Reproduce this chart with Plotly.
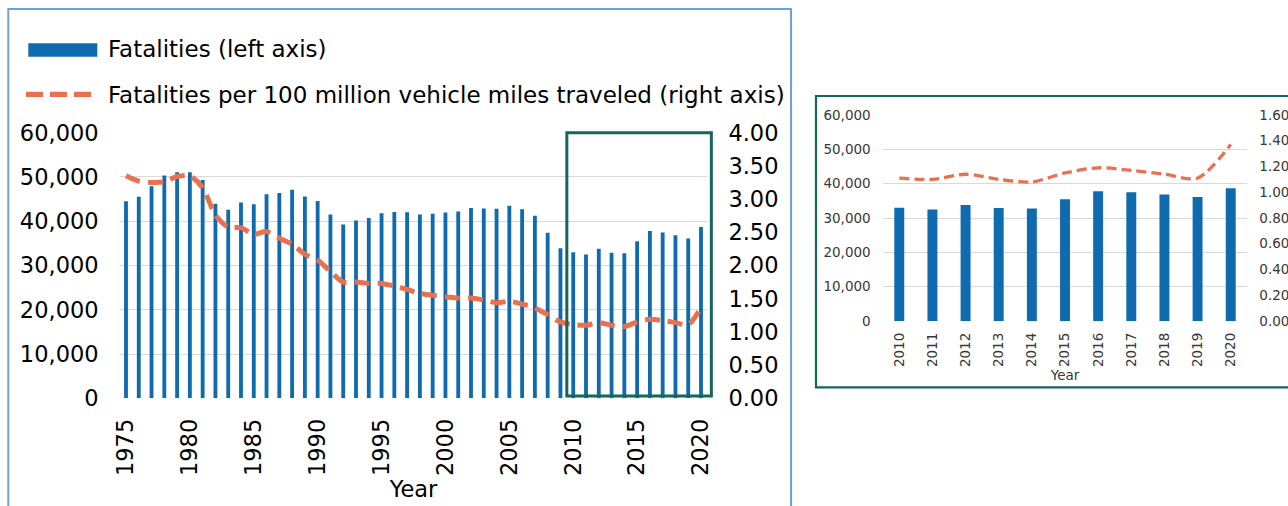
import plotly.graph_objects as go

# ---------------- data ----------------
years = list(range(1975, 2021))
fatalities = [44525, 45523, 47878, 50331, 51093, 51091, 49301, 43945, 42589, 44257,
              43825, 46087, 46390, 47087, 45582, 44599, 41508, 39250, 40150, 40716,
              41817, 42065, 42013, 41501, 41717, 41945, 42196, 43005, 42884, 42836,
              43510, 42708, 41259, 37423, 33883, 32999, 32479, 33782, 32893, 32744,
              35484, 37806, 37473, 36835, 36096, 38680]
rate_per_100m_vmt = [3.35, 3.27, 3.25, 3.26, 3.34, 3.35, 3.17, 2.76, 2.58, 2.57,
                     2.47, 2.51, 2.41, 2.32, 2.17, 2.08, 1.91, 1.75, 1.75, 1.73,
                     1.73, 1.69, 1.64, 1.58, 1.55, 1.53, 1.51, 1.51, 1.48, 1.44,
                     1.46, 1.42, 1.36, 1.26, 1.15, 1.11, 1.10, 1.14, 1.10, 1.08,
                     1.15, 1.19, 1.17, 1.14, 1.11, 1.37]
main_year_ticks = [1975, 1980, 1985, 1990, 1995, 2000, 2005, 2010, 2015, 2020]
inset_start_year = 2010

legend_bar_label = "Fatalities (left axis)"
legend_line_label = "Fatalities per 100 million vehicle miles traveled (right axis)"

inset_idx = [i for i, y in enumerate(years) if y >= inset_start_year]
inset_years = [years[i] for i in inset_idx]
inset_fatalities = [fatalities[i] for i in inset_idx]
inset_rate = [rate_per_100m_vmt[i] for i in inset_idx]

# ---------------- geometry / styles ----------------
W, H = 1288, 506
BLUE = "#0F6BAD"
ORANGE = "#E9714F"
TEAL = "#17665B"
GRID = "#D9D9D9"
FONT = "DejaVu Sans"
MAIN_FS = 22.5
LEGEND_FS = 23
INSET_FS = 13.5


def px_x(p):
    return p / W


def px_y(p):
    return 1 - p / H


main_xdom = [px_x(119.6), px_x(707.4)]
main_ydom = [px_y(398.3), px_y(132.7)]
inset_xdom = [px_x(882.7), px_x(1247.3)]
inset_ydom = [px_y(321), px_y(115)]
main_xrange = [1974.5, 2020.5]
main_yrange = [0, 60000]


def data_to_paper_x(v):
    f = (v - main_xrange[0]) / (main_xrange[1] - main_xrange[0])
    return main_xdom[0] + f * (main_xdom[1] - main_xdom[0])


def data_to_paper_y(v):
    f = (v - main_yrange[0]) / (main_yrange[1] - main_yrange[0])
    return main_ydom[0] + f * (main_ydom[1] - main_ydom[0])


fig = go.Figure()

# main chart
fig.add_trace(go.Bar(x=years, y=fatalities, width=0.3, marker_color=BLUE,
                     marker_line_width=0, name=legend_bar_label,
                     xaxis="x", yaxis="y", showlegend=False))
fig.add_trace(go.Scatter(x=years, y=rate_per_100m_vmt, mode="lines",
                         line=dict(color=ORANGE, width=5, dash="15px,8px",
                                   shape="spline", smoothing=0.8),
                         name=legend_line_label, xaxis="x", yaxis="y2",
                         showlegend=False))
# inset chart
fig.add_trace(go.Bar(x=inset_years, y=inset_fatalities, width=0.3, marker_color=BLUE,
                     marker_line_width=0, name=legend_bar_label,
                     xaxis="x2", yaxis="y3", showlegend=False))
fig.add_trace(go.Scatter(x=inset_years, y=inset_rate, mode="lines",
                         line=dict(color=ORANGE, width=3.3, dash="10px,5px",
                                   shape="spline", smoothing=0.8),
                         name=legend_line_label, xaxis="x2", yaxis="y4",
                         showlegend=False))

main_font = dict(family=FONT, size=MAIN_FS, color="#000000")
legend_font = dict(family=FONT, size=LEGEND_FS, color="#000000")
inset_font = dict(family=FONT, size=INSET_FS, color="#383838")

fig.update_layout(
    width=W, height=H, autosize=False,
    margin=dict(l=0, r=0, t=0, b=0, pad=0, autoexpand=False),
    paper_bgcolor="white", plot_bgcolor="rgba(0,0,0,0)",
    showlegend=False,
    font=dict(family=FONT),
    xaxis=dict(domain=main_xdom, anchor="y", range=main_xrange, automargin=False,
               tickmode="array", tickvals=main_year_ticks, tickangle=-90,
               tickfont=main_font, showgrid=False, zeroline=False, showline=False,
               ticks="", ticklabelstandoff=15,
               title=dict(text="Year", font=main_font, standoff=4)),
    yaxis=dict(domain=main_ydom, anchor="x", range=main_yrange, dtick=10000,
               automargin=False,
               tickformat=",", tickfont=main_font, showgrid=True, gridcolor=GRID,
               gridwidth=1.3, zeroline=False, showline=False, ticks="",
               ticklabelstandoff=20),
    yaxis2=dict(domain=main_ydom, anchor="x", overlaying="y", side="right",
                automargin=False,
                range=[0, 4], dtick=0.5, tickformat=".2f", tickfont=main_font,
                showgrid=False, zeroline=False, showline=False, ticks="",
                ticklabelstandoff=20),
    xaxis2=dict(domain=inset_xdom, anchor="y3", range=[2009.5, 2020.5],
                automargin=False,
                tickmode="array", tickvals=inset_years, tickangle=-90,
                tickfont=inset_font, showgrid=False, zeroline=False, showline=False,
                ticks="", ticklabelstandoff=8,
                title=dict(text="Year", font=inset_font, standoff=3)),
    yaxis3=dict(domain=inset_ydom, anchor="x2", range=[0, 60000], dtick=10000,
                automargin=False,
                tickformat=",", tickfont=inset_font, showgrid=True, gridcolor=GRID,
                gridwidth=1, zeroline=False, showline=False, ticks="",
                ticklabelstandoff=11),
    yaxis4=dict(domain=inset_ydom, anchor="x2", overlaying="y3", side="right",
                automargin=False,
                range=[0, 1.6], dtick=0.2, tickformat=".2f", tickfont=inset_font,
                showgrid=False, zeroline=False, showline=False, ticks="",
                ticklabelstandoff=11),
)

shapes = [
    # outer frame of main panel
    dict(type="rect", xref="paper", yref="paper", x0=px_x(8.3), x1=px_x(791),
         y0=-0.1, y1=px_y(9), line=dict(color="#6FA0D6", width=2), layer="below"),
    # inset frame
    dict(type="rect", xref="paper", yref="paper", x0=px_x(816), x1=1.1,
         y0=px_y(387.3), y1=px_y(96), line=dict(color=TEAL, width=2.2), layer="below"),
    # highlight box on main chart (2010-2020)
    dict(type="rect", xref="paper", yref="paper",
         x0=data_to_paper_x(2009.5), x1=data_to_paper_x(2020.81),
         y0=data_to_paper_y(520), y1=data_to_paper_y(60000),
         line=dict(color=TEAL, width=3), layer="above"),
    # legend swatches
    dict(type="rect", xref="paper", yref="paper", x0=px_x(28.3), x1=px_x(97.3),
         y0=px_y(56.7), y1=px_y(43.3), fillcolor=BLUE, line=dict(width=0)),
    dict(type="line", xref="paper", yref="paper", x0=px_x(26), x1=px_x(93.5),
         y0=px_y(94.3), y1=px_y(94.3),
         line=dict(color=ORANGE, width=5.3, dash="17px,7px")),
]
fig.update_layout(shapes=shapes)

fig.add_annotation(text=legend_bar_label, xref="paper", yref="paper",
                   x=px_x(106), y=px_y(49.5), xanchor="left", yanchor="middle",
                   showarrow=False, font=legend_font)
fig.add_annotation(text=legend_line_label, xref="paper", yref="paper",
                   x=px_x(106), y=px_y(95), xanchor="left", yanchor="middle",
                   showarrow=False, font=legend_font)

fig.write_html("out.html", config={"displayModeBar": False},
               post_script="document.body.style.margin='0';document.body.style.overflow='hidden';")
